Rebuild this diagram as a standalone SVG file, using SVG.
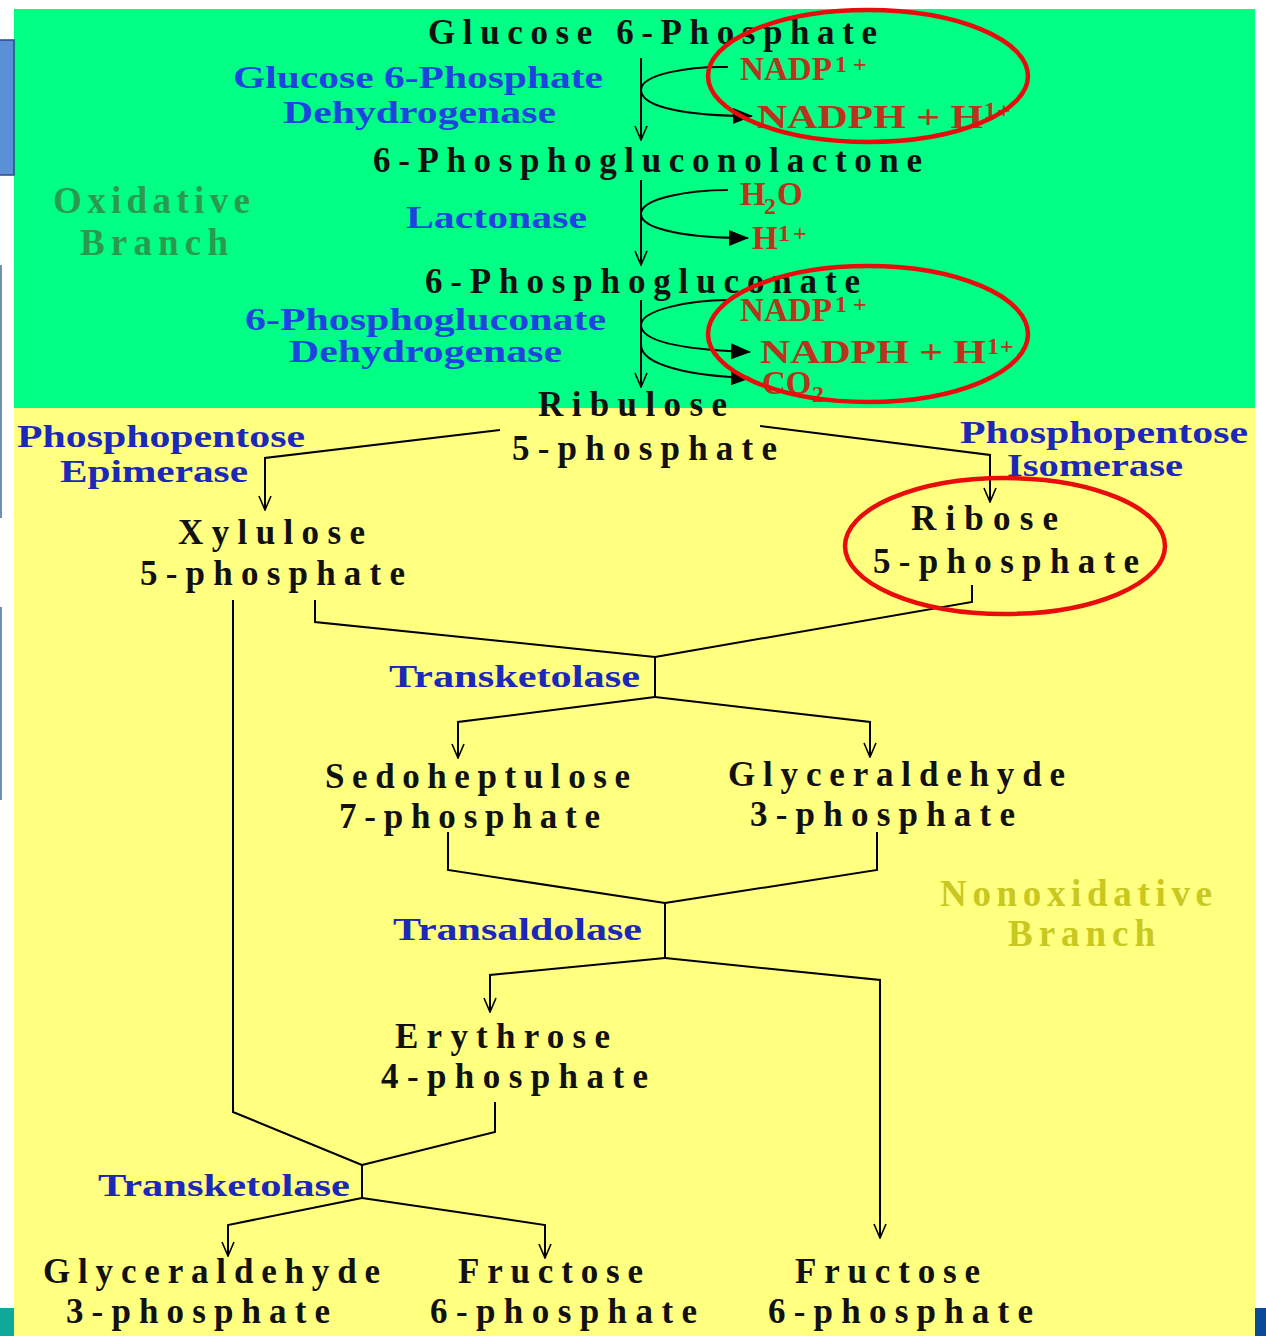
<svg xmlns="http://www.w3.org/2000/svg" width="1266" height="1336" viewBox="0 0 1266 1336">
<defs>
<marker id="open" markerUnits="userSpaceOnUse" viewBox="0 0 16 14" refX="15" refY="7" markerWidth="16" markerHeight="14" orient="auto"><path d="M1,1 L15,7 L1,13" fill="none" stroke="#000" stroke-width="1.6"/></marker>
<marker id="solid" markerUnits="userSpaceOnUse" viewBox="0 0 20 16" refX="19" refY="8" markerWidth="20" markerHeight="16" orient="auto"><path d="M0,0 L20,8 L0,16 z" fill="#000"/></marker>
<style>
.m{font-family:"Liberation Serif",serif;font-weight:bold;font-size:35px;fill:#111}
.e{font-family:"Liberation Serif",serif;font-weight:bold;font-size:31px;fill:#1e44e0}
.e2{font-family:"Liberation Serif",serif;font-weight:bold;font-size:31px;fill:#1c28b8}
.p{font-family:"Liberation Serif",serif;font-weight:bold;font-size:33px;fill:#b8341c}
.s{font-family:"Liberation Serif",serif;font-weight:bold;font-size:24px;fill:#b8341c}
.ox{font-family:"Liberation Serif",serif;font-weight:bold;font-size:37px;fill:#2a9a50}
.nox{font-family:"Liberation Serif",serif;font-weight:bold;font-size:37px;fill:#c8c820}
.c{fill:none;stroke:#000;stroke-width:2}
.ring{fill:none;stroke:#e80c0c;stroke-width:4.5}
</style>
</defs>
<rect width="1266" height="1336" fill="#fff"/>
<rect x="14" y="9" width="1241" height="400" fill="#00ff84"/>
<rect x="14" y="408" width="1241" height="928" fill="#ffff80"/>
<rect x="0" y="1308" width="14" height="28" fill="#0fa89a"/>
<rect x="1255" y="1308" width="11" height="28" fill="#0a4a9a"/>
<rect x="-2" y="40" width="16" height="135" fill="#5b8fd8" stroke="#2a4a8a" stroke-width="1.5"/>
<line x1="1" y1="265" x2="1" y2="518" stroke="#7090b0" stroke-width="2"/>
<line x1="1" y1="607" x2="1" y2="800" stroke="#7090b0" stroke-width="2"/>

<g id="labels-branch">
<text class="ox" x="53" y="213" textLength="197" lengthAdjust="spacing">Oxidative</text>
<text class="ox" x="80" y="255" textLength="148" lengthAdjust="spacing">Branch</text>
<text class="nox" x="940" y="906" textLength="272" lengthAdjust="spacing">Nonoxidative</text>
<text class="nox" x="1008" y="946" textLength="147" lengthAdjust="spacing">Branch</text>
</g>

<g id="connectors">
<path class="c" d="M641,58 V140" marker-end="url(#open)"/>
<path class="c" d="M728,67 C690,66 641,74 641,90 C641,108 690,116 752,116" marker-end="url(#solid)"/>
<path class="c" d="M641,180 V265" marker-end="url(#open)"/>
<path class="c" d="M728,190 C690,190 641,198 641,214 C641,230 690,238 748,238" marker-end="url(#solid)"/>
<path class="c" d="M641,300 V387" marker-end="url(#open)"/>
<path class="c" d="M728,300 C690,300 641,310 641,325 C641,343 690,350 750,352" marker-end="url(#solid)"/>
<path class="c" d="M641,345 C641,365 690,376 750,378" marker-end="url(#solid)"/>
<path class="c" d="M500,430 L265,458 L265,510" marker-end="url(#open)"/>
<path class="c" d="M760,426 L990,455 L990,502" marker-end="url(#open)"/>
<path class="c" d="M315,600 L315,622 L655,657 M972,585 L972,602 L655,657 M655,657 V697"/>
<path class="c" d="M655,697 L458,722 L458,758" marker-end="url(#open)"/>
<path class="c" d="M655,697 L870,722 L870,757" marker-end="url(#open)"/>
<path class="c" d="M448,832 V870 L665,903 M877,832 V870 L665,903 M665,903 V958"/>
<path class="c" d="M665,958 L490,975 L490,1012" marker-end="url(#open)"/>
<path class="c" d="M665,958 L880,980 L880,1238" marker-end="url(#open)"/>
<path class="c" d="M233,600 V1112 L362,1165 M495,1102 V1132 L362,1165 M362,1165 V1198"/>
<path class="c" d="M362,1198 L228,1225 L228,1256" marker-end="url(#open)"/>
<path class="c" d="M362,1198 L545,1225 L545,1258" marker-end="url(#open)"/>
</g>

<g id="g6p"><text class="m" x="428" y="44" textLength="449" lengthAdjust="spacing">Glucose 6-Phosphate</text></g>
<g id="enz-g6pd">
<text class="e" x="233" y="88" textLength="370" lengthAdjust="spacingAndGlyphs">Glucose 6-Phosphate</text>
<text class="e" x="283" y="123" textLength="273" lengthAdjust="spacingAndGlyphs">Dehydrogenase</text>
</g>
<g id="prod1">
<text class="p" x="740" y="80" textLength="92" lengthAdjust="spacingAndGlyphs">NADP</text>
<text class="s" x="835" y="72" letter-spacing="6">1+</text>
<text class="p" x="757" y="128" textLength="226" lengthAdjust="spacingAndGlyphs">NADPH + H</text>
<text class="s" x="984" y="118" letter-spacing="1">1+</text>
</g>
<g id="lactone"><text class="m" x="373" y="172" textLength="549" lengthAdjust="spacing">6-Phosphogluconolactone</text></g>
<g id="enz-lactonase"><text class="e" x="406" y="228" textLength="181" lengthAdjust="spacingAndGlyphs">Lactonase</text></g>
<g id="prod2">
<text class="p" x="740" y="205">H</text>
<text class="s" x="764" y="214">2</text>
<text class="p" x="777" y="205">O</text>
<text class="p" x="752" y="249">H</text>
<text class="s" x="778" y="241" letter-spacing="3">1+</text>
</g>
<g id="gluconate"><text class="m" x="425" y="293" textLength="435" lengthAdjust="spacing">6-Phosphogluconate</text></g>
<g id="enz-6pgd">
<text class="e" x="245" y="330" textLength="361" lengthAdjust="spacingAndGlyphs">6-Phosphogluconate</text>
<text class="e" x="289" y="362" textLength="273" lengthAdjust="spacingAndGlyphs">Dehydrogenase</text>
</g>
<g id="prod3">
<text class="p" x="740" y="321" textLength="92" lengthAdjust="spacingAndGlyphs">NADP</text>
<text class="s" x="835" y="312" letter-spacing="6">1+</text>
<text class="p" x="760" y="363" textLength="226" lengthAdjust="spacingAndGlyphs">NADPH + H</text>
<text class="s" x="987" y="354" letter-spacing="1">1+</text>
<text class="p" x="762" y="394">CO</text>
<text class="s" x="812" y="402">2</text>
</g>
<g id="ribulose">
<text class="m" x="538" y="416" textLength="189" lengthAdjust="spacing">Ribulose</text>
<text class="m" x="512" y="460" textLength="265" lengthAdjust="spacing">5-phosphate</text>
</g>
<g id="enz-epimerase">
<text class="e2" x="17" y="447" textLength="288" lengthAdjust="spacingAndGlyphs">Phosphopentose</text>
<text class="e2" x="60" y="482" textLength="188" lengthAdjust="spacingAndGlyphs">Epimerase</text>
</g>
<g id="enz-isomerase">
<text class="e2" x="960" y="443" textLength="288" lengthAdjust="spacingAndGlyphs">Phosphopentose</text>
<text class="e2" x="1007" y="476" textLength="176" lengthAdjust="spacingAndGlyphs">Isomerase</text>
</g>
<g id="xylulose">
<text class="m" x="178" y="544" textLength="187" lengthAdjust="spacing">Xylulose</text>
<text class="m" x="140" y="585" textLength="265" lengthAdjust="spacing">5-phosphate</text>
</g>
<g id="ribose">
<text class="m" x="911" y="530" textLength="147" lengthAdjust="spacing">Ribose</text>
<text class="m" x="873" y="573" textLength="266" lengthAdjust="spacing">5-phosphate</text>
</g>
<g id="enz-tk1"><text class="e2" x="389" y="687" textLength="251" lengthAdjust="spacingAndGlyphs">Transketolase</text></g>
<g id="sedo">
<text class="m" x="325" y="788" textLength="305" lengthAdjust="spacing">Sedoheptulose</text>
<text class="m" x="339" y="828" textLength="261" lengthAdjust="spacing">7-phosphate</text>
</g>
<g id="gap1">
<text class="m" x="728" y="786" textLength="337" lengthAdjust="spacing">Glyceraldehyde</text>
<text class="m" x="750" y="826" textLength="265" lengthAdjust="spacing">3-phosphate</text>
</g>
<g id="enz-ta"><text class="e2" x="393" y="940" textLength="249" lengthAdjust="spacingAndGlyphs">Transaldolase</text></g>
<g id="erythrose">
<text class="m" x="395" y="1048" textLength="215" lengthAdjust="spacing">Erythrose</text>
<text class="m" x="381" y="1088" textLength="267" lengthAdjust="spacing">4-phosphate</text>
</g>
<g id="enz-tk2"><text class="e2" x="98" y="1196" textLength="252" lengthAdjust="spacingAndGlyphs">Transketolase</text></g>
<g id="gap2">
<text class="m" x="43" y="1283" textLength="337" lengthAdjust="spacing">Glyceraldehyde</text>
<text class="m" x="66" y="1323" textLength="264" lengthAdjust="spacing">3-phosphate</text>
</g>
<g id="f6p1">
<text class="m" x="458" y="1283" textLength="185" lengthAdjust="spacing">Fructose</text>
<text class="m" x="430" y="1323" textLength="267" lengthAdjust="spacing">6-phosphate</text>
</g>
<g id="f6p2">
<text class="m" x="795" y="1283" textLength="185" lengthAdjust="spacing">Fructose</text>
<text class="m" x="768" y="1323" textLength="265" lengthAdjust="spacing">6-phosphate</text>
</g>

<g id="highlights">
<ellipse class="ring" cx="868" cy="76" rx="160" ry="66"/>
<ellipse class="ring" cx="868" cy="334" rx="160" ry="68"/>
<ellipse class="ring" cx="1005" cy="546" rx="160" ry="68"/>
</g>
</svg>
